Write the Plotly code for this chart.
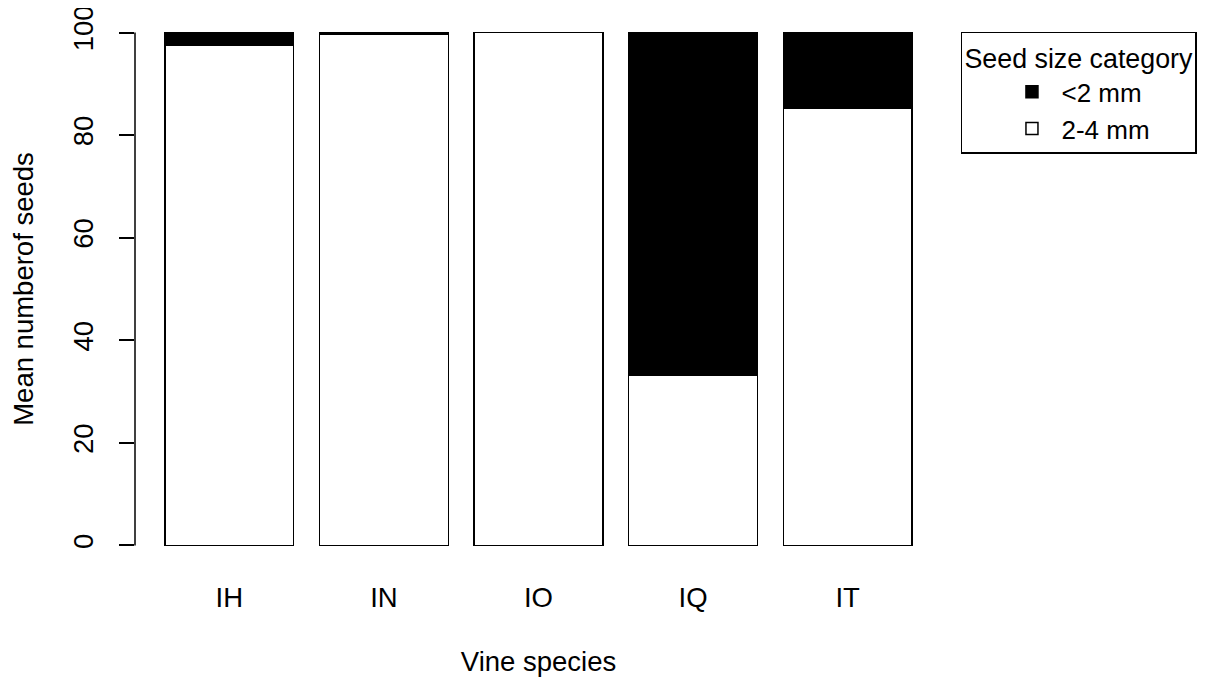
import plotly.graph_objects as go

species = ["IH", "IN", "IO", "IQ", "IT"]
seeds_2_4mm = [97.6, 99.6, 100.0, 33.1, 85.3]
seeds_lt2mm = [2.4, 0.4, 0.0, 66.9, 14.7]
y_ticks = [0, 20, 40, 60, 80, 100]

FONT = "Arial, Liberation Sans, sans-serif"
FS = 27.5

fig = go.Figure()
fig.add_trace(go.Bar(
    x=species, y=seeds_2_4mm, name="2-4 mm",
    marker=dict(color="white", line=dict(color="black", width=1.5)),
))
fig.add_trace(go.Bar(
    x=species, y=seeds_lt2mm, name="<2 mm",
    marker=dict(color="black", line=dict(color="black", width=1.5)),
))

fig.update_layout(
    width=1197, height=669,
    barmode="stack", bargap=1/6,
    paper_bgcolor="white", plot_bgcolor="white",
    font=dict(family=FONT, size=FS, color="black"),
    margin=dict(l=127, r=263, t=4, b=111, autoexpand=False),
    showlegend=True,
    legend=dict(
        x=1.0235, y=0.964, xanchor="left", yanchor="top",
        bordercolor="black", borderwidth=1.5,
        traceorder="reversed",
        title=dict(text="Seed size category", font=dict(size=26.8), side="top"),
        font=dict(size=26),
        indentation=40,
        itemwidth=49,
    ),
    xaxis=dict(
        range=[-0.61, 4.61], showline=False, ticks="", showgrid=False, zeroline=False,
        ticklabelstandoff=12,
        title=dict(text="Vine species", font=dict(size=FS), standoff=40),
    ),
    yaxis=dict(
        range=[-4, 104], tickvals=y_ticks, ticktext=[str(v) for v in y_ticks],
        tickangle=-90, ticks="outside", ticklen=15, tickwidth=1.5, tickcolor="black",
        showline=False, showgrid=False, zeroline=False,
        ticklabelstandoff=15, ticklabeloverflow="allow",
        title=dict(text="Mean numberof seeds", font=dict(size=FS), standoff=33),
    ),
    shapes=[dict(type="line", xref="paper", yref="y", x0=0, x1=0, y0=0, y1=100,
                 line=dict(color="black", width=1.5))],
)

fig.write_html("out.html")
